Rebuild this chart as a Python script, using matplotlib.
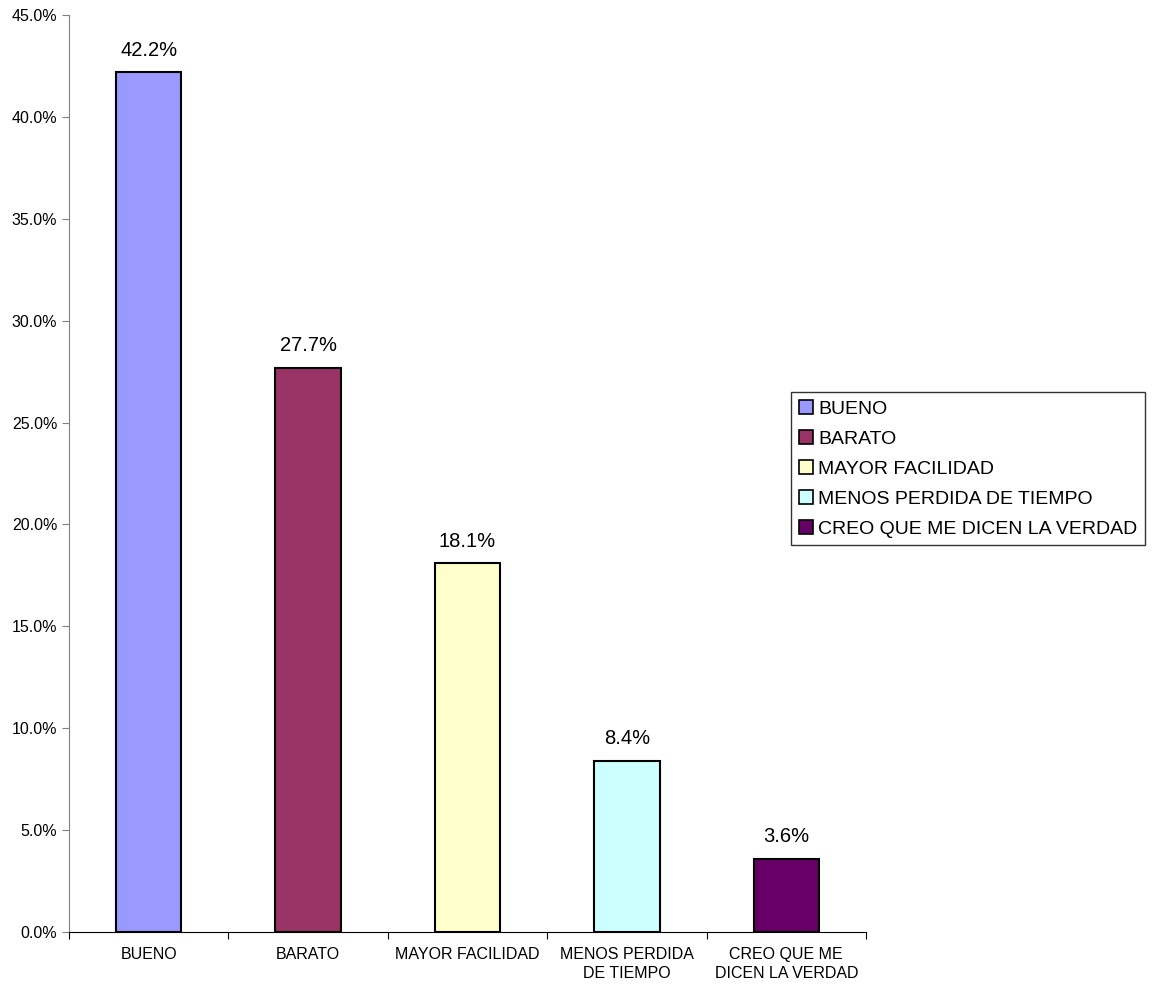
import matplotlib.pyplot as plt
from matplotlib.patches import Patch

categories = ['BUENO', 'BARATO', 'MAYOR FACILIDAD', 'MENOS PERDIDA DE TIEMPO', 'CREO QUE ME DICEN LA VERDAD']
tick_labels = ['BUENO', 'BARATO', 'MAYOR FACILIDAD', 'MENOS PERDIDA\nDE TIEMPO', 'CREO QUE ME\nDICEN LA VERDAD']
values = [42.2, 27.7, 18.1, 8.4, 3.6]
colors = ['#9999FF', '#993366', '#FFFFCC', '#CCFFFF', '#660066']

plt.rcParams['font.family'] = ['Liberation Sans', 'DejaVu Sans']

fig = plt.figure(figsize=(11.56, 9.88), dpi=100)
ax = fig.add_axes([69 / 1156, 1 - 932 / 988, (866 - 69) / 1156, (932 - 15) / 988])

x = list(range(len(values)))
bars = ax.bar(x, values, width=0.41, color=colors, edgecolor='black', linewidth=1.5)
for xi, v in zip(x, values):
    ax.annotate(f'{v:.1f}%', (xi, v), xytext=(0, 9), textcoords='offset points',
                ha='center', va='bottom', fontsize=14.5)

ax.set_xlim(-0.5, 4.5)
ax.set_ylim(0, 45)
ax.set_yticks(range(0, 50, 5))
ax.set_yticklabels([f'{t:.1f}%' for t in range(0, 50, 5)], fontsize=11.5)
ax.set_xticks([i - 0.5 for i in range(6)])
ax.set_xticklabels([])
ax.set_xticks(x, minor=True)
ax.set_xticklabels(tick_labels, minor=True, fontsize=11.5, linespacing=1.35)
ax.tick_params(axis='x', which='minor', length=0, pad=11)
ax.tick_params(axis='x', which='major', length=5, direction='out')
ax.tick_params(axis='y', length=5, direction='out', color='#808080')

ax.spines['top'].set_visible(False)
ax.spines['right'].set_visible(False)
ax.spines['left'].set_color('#808080')
ax.spines['bottom'].set_color('black')

handles = [Patch(facecolor=c, edgecolor='black', linewidth=1.2) for c in colors]
leg = fig.legend(handles, categories, loc='upper left', bbox_to_anchor=(791 / 1156, 1 - 392 / 988),
                 fontsize=14, frameon=True, fancybox=False, edgecolor='black',
                 handlelength=0.75, handleheight=0.75, handletextpad=0.25, labelspacing=0.62,
                 borderpad=0.4, borderaxespad=0)
leg.get_frame().set_linewidth(1.0)

fig.savefig('out.png', dpi=100)
